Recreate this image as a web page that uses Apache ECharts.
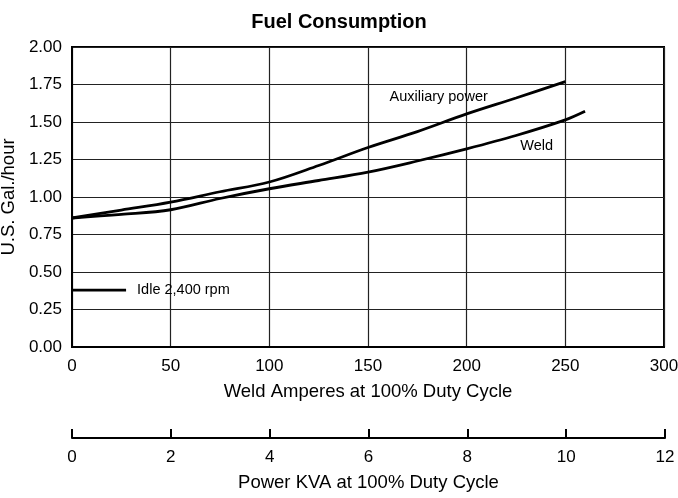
<!DOCTYPE html>
<html>
<head>
<meta charset="utf-8">
<script src="https://cdn.jsdelivr.net/npm/echarts@6/dist/echarts.min.js"></script>
<style>html,body{margin:0;padding:0;background:#fff;}#c{width:678px;height:498px;}</style>
</head>
<body>
<div id="c"></div>
<script>
// Data
const ampsAux = [0, 25, 50, 75, 100, 125, 150, 175, 200, 225, 250];
const auxPower = [0.86, 0.913, 0.966, 1.035, 1.10, 1.21, 1.33, 1.436, 1.554, 1.66, 1.769];
const ampsWeld = [0, 25, 50, 75, 100, 125, 150, 175, 200, 225, 250, 260];
const weldFuel = [0.86, 0.884, 0.915, 0.99, 1.055, 1.11, 1.166, 1.24, 1.321, 1.41, 1.514, 1.571];
const idleAmps = [0, 27.4];
const idleFuel = [0.379, 0.379];
const yTicks = [0, 0.25, 0.5, 0.75, 1.0, 1.25, 1.5, 1.75, 2.0];
const ampTicks = [0, 50, 100, 150, 200, 250, 300];
const kvaTicks = [0, 2, 4, 6, 8, 10, 12];

const FONT = '"Liberation Sans", Arial, sans-serif';
const pair = (xs, ys) => xs.map((x, i) => [x, ys[i]]);

const chart = echarts.init(document.getElementById('c'), null, {renderer: 'canvas'});
chart.setOption({
  animation: false,
  backgroundColor: '#fff',
  textStyle: {fontFamily: FONT, color: '#000'},
  title: {
    text: 'Fuel Consumption', left: 'center', top: 7,
    textStyle: {fontFamily: FONT, fontWeight: 'bold', fontSize: 20, color: '#000'}
  },
  grid: [
    {left: 72, right: 14, top: 47, bottom: 151, show: true, borderColor: '#000', borderWidth: 2, backgroundColor: 'transparent', containLabel: false, outerBoundsMode: 'none'},
    {left: 72, right: 13, top: 436, height: 2, containLabel: false, outerBoundsMode: 'none'}
  ],
  xAxis: [
    {
      type: 'value', gridIndex: 0, min: ampTicks[0], max: ampTicks[ampTicks.length - 1], interval: 50,
      name: 'Weld Amperes at 100% Duty Cycle', nameLocation: 'middle', nameGap: 35,
      nameTextStyle: {fontFamily: FONT, fontSize: 18.5, color: '#000'},
      axisLine: {show: true, lineStyle: {color: '#000', width: 2}},
      axisTick: {show: false},
      axisLabel: {margin: 11, fontFamily: FONT, fontSize: 17, color: '#000'},
      splitLine: {show: true, lineStyle: {color: '#222', width: 1.2}}
    },
    {
      type: 'value', gridIndex: 1, min: kvaTicks[0], max: kvaTicks[kvaTicks.length - 1], interval: 2,
      name: 'Power KVA at 100% Duty Cycle', nameLocation: 'middle', nameGap: 35,
      nameTextStyle: {fontFamily: FONT, fontSize: 18.5, color: '#000'},
      axisLine: {show: true, onZero: false, lineStyle: {color: '#000', width: 2}},
      axisTick: {show: true, inside: true, length: 9, lineStyle: {color: '#000', width: 2}},
      axisLabel: {margin: 11, fontFamily: FONT, fontSize: 17, color: '#000'},
      splitLine: {show: false}
    }
  ],
  yAxis: [
    {
      type: 'value', gridIndex: 0, min: yTicks[0], max: yTicks[yTicks.length - 1], interval: 0.25,
      name: 'U.S. Gal./hour', nameLocation: 'middle', nameGap: 49, nameRotate: 90,
      nameTextStyle: {fontFamily: FONT, fontSize: 18.5, color: '#000'},
      axisLine: {show: true, lineStyle: {color: '#000', width: 2}},
      axisTick: {show: false},
      axisLabel: {margin: 10, fontFamily: FONT, fontSize: 17, color: '#000', formatter: v => v.toFixed(2)},
      splitLine: {show: true, lineStyle: {color: '#222', width: 1.2}}
    },
    {type: 'value', gridIndex: 1, min: 0, max: 1, show: false}
  ],
  series: [
    {
      name: 'Auxiliary power', type: 'line', xAxisIndex: 0, yAxisIndex: 0,
      data: pair(ampsAux, auxPower), smooth: 0.35, showSymbol: false,
      lineStyle: {color: '#000', width: 2.8},
      markPoint: {
        symbol: 'circle', symbolSize: 0,
        label: {show: true, position: 'inside', formatter: 'Auxiliary power', fontFamily: FONT, fontSize: 14.5, color: '#000'},
        data: [{coord: [185.8, 1.664]}]
      }
    },
    {
      name: 'Weld', type: 'line', xAxisIndex: 0, yAxisIndex: 0,
      data: pair(ampsWeld, weldFuel), smooth: 0.35, showSymbol: false,
      lineStyle: {color: '#000', width: 2.8},
      markPoint: {
        symbol: 'circle', symbolSize: 0,
        label: {show: true, position: 'inside', formatter: 'Weld', fontFamily: FONT, fontSize: 14.5, color: '#000'},
        data: [{coord: [235.5, 1.343]}]
      }
    },
    {
      name: 'Idle 2,400 rpm', type: 'line', xAxisIndex: 0, yAxisIndex: 0,
      data: pair(idleAmps, idleFuel), showSymbol: false,
      lineStyle: {color: '#000', width: 2.8},
      endLabel: {show: true, formatter: 'Idle 2,400 rpm', distance: 11, fontFamily: FONT, fontSize: 14.5, color: '#000'}
    }
  ]
});
</script>
</body>
</html>
